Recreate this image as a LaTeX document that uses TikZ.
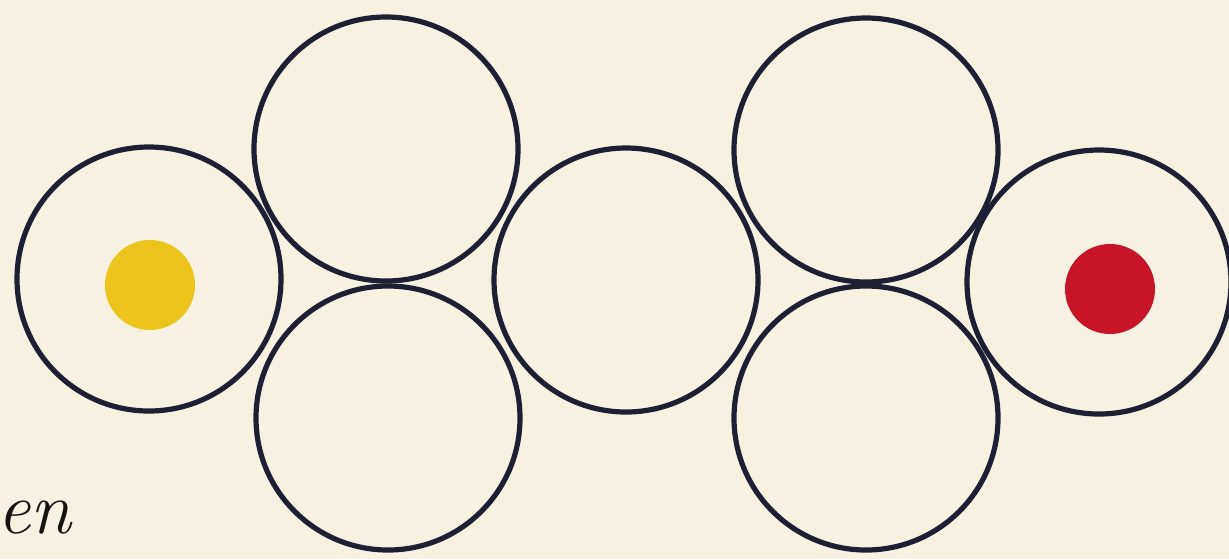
\documentclass[tikz,border=0pt]{standalone}
\usetikzlibrary{positioning}
\definecolor{paper}{RGB}{246,241,225}
\definecolor{ink}{RGB}{28,32,50}
\definecolor{halo}{RGB}{236,242,248}
\definecolor{dotyellow}{RGB}{236,196,28}
\definecolor{dotred}{RGB}{200,20,40}
\definecolor{textink}{RGB}{20,20,20}
\pgfdeclarelayer{bg}
\pgfsetlayers{bg,main}
\tikzset{
  ring/.style={circle, draw=ink, line width=2.6pt, minimum size=132pt, inner sep=0pt},
  halopath/.style={draw=halo, line width=6pt},
  dot/.style={circle, minimum size=45pt, inner sep=0pt, draw=none},
}
\begin{document}
\begin{tikzpicture}[x=0.5pt,y=-0.5pt]
\fill[paper] (0,0) rectangle (1229,559);
\useasboundingbox (0,0) rectangle (1229,559);
% rings
\node[ring] (c1) at (149,279) {};
\node[ring] (c2) at (386,149) {};
\node[ring] (c3) at (388,418) {};
\node[ring] (c4) at (626,280) {};
\node[ring] (c5) at (866,150) {};
\node[ring] (c6) at (866,418) {};
\node[ring] (c7) at (1099,282) {};
\begin{pgfonlayer}{bg}
\foreach \n in {c1,c2,c3,c4,c5,c6,c7}
  \draw[halopath] (\n.center) circle[radius=132];
\end{pgfonlayer}
% dots
\node[dot, fill=dotyellow] (yellowdot) at (150,285) {};
\node[dot, fill=dotred] (reddot) at (1110,289) {};
% text
\node[anchor=base west, inner sep=0pt, text=textink,
      font=\fontsize{37}{37}\selectfont\itshape] (word) at (-3,533) {en};
\end{tikzpicture}
\end{document}
